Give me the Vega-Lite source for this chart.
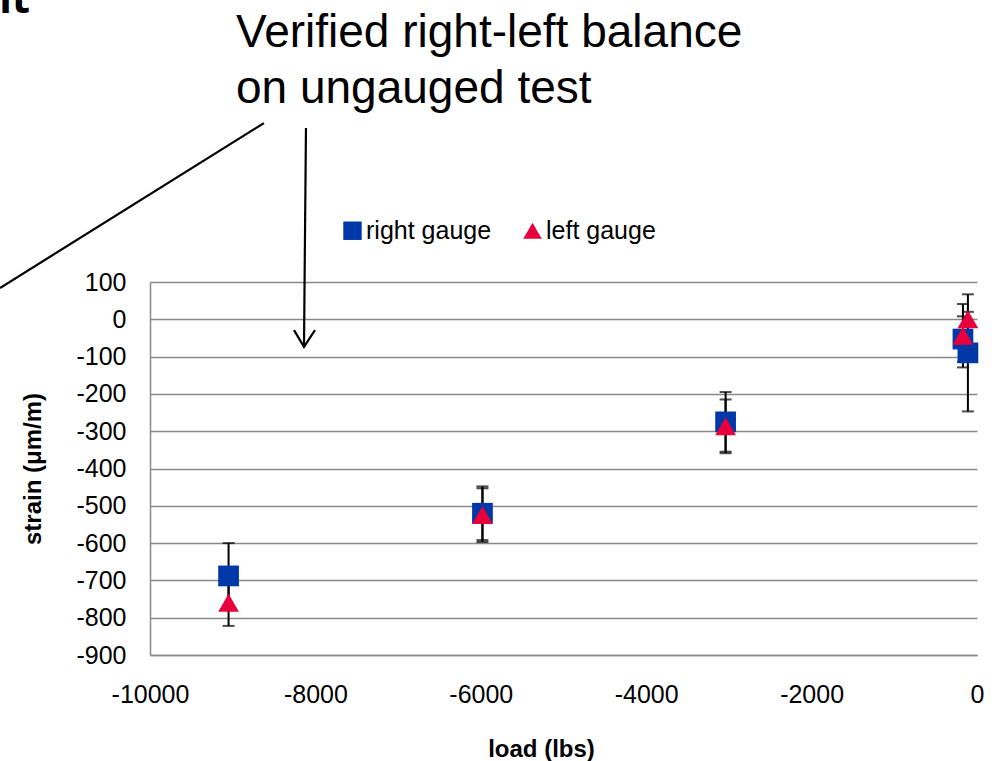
{
  "$schema": "https://vega.github.io/schema/vega-lite/v6.json",
  "width": 827,
  "height": 373,
  "autosize": {"type": "none"},
  "padding": {"left": 150, "top": 282, "right": 21, "bottom": 106},
  "background": "white",
  "config": {
    "font": "Liberation Sans",
    "view": {"stroke": null},
    "axis": {"labelFont": "Liberation Sans", "titleFont": "Liberation Sans", "labelColor": "#000000", "titleColor": "#000000"},
    "legend": {"labelFont": "Liberation Sans"}
  },
  "datasets": {
    "gauges": [
      {"load": -9050, "strain": -688, "lo": -776, "hi": -600, "series": "right gauge"},
      {"load": -5980, "strain": -520, "lo": -592, "hi": -448, "series": "right gauge"},
      {"load": -3040, "strain": -275, "lo": -355, "hi": -195, "series": "right gauge"},
      {"load": -170, "strain": -53, "lo": -114, "hi": 8, "series": "right gauge"},
      {"load": -110, "strain": -90, "lo": -247, "hi": 67, "series": "right gauge"},
      {"load": -9050, "strain": -760, "lo": -822, "hi": -698, "series": "left gauge"},
      {"load": -5980, "strain": -525, "lo": -597, "hi": -453, "series": "left gauge"},
      {"load": -3040, "strain": -287, "lo": -359, "hi": -215, "series": "left gauge"},
      {"load": -170, "strain": -44, "lo": -129, "hi": 41, "series": "left gauge"},
      {"load": -110, "strain": 0, "lo": -20, "hi": 20, "series": "left gauge"}
    ],
    "lines": [
      {"seg": "a", "ord": 1, "load": -8622, "strain": 526},
      {"seg": "a", "ord": 2, "load": -11814, "strain": 84},
      {"seg": "b", "ord": 1, "load": -8114, "strain": 513},
      {"seg": "b", "ord": 2, "load": -8138, "strain": -74},
      {"seg": "c", "ord": 1, "load": -8259, "strain": -29},
      {"seg": "c", "ord": 2, "load": -8138, "strain": -74},
      {"seg": "c", "ord": 3, "load": -8005, "strain": -29}
    ],
    "notes": [
      {"load": -8960, "strain": 730, "label": "Verified right-left balance"},
      {"load": -8960, "strain": 580, "label": "on ungauged test"}
    ],
    "title": [
      {"load": -11451, "strain": 821, "label": "nt"}
    ]
  },
  "encoding": {
    "x": {
      "field": "load", "type": "quantitative",
      "scale": {"domain": [-10000, 0], "nice": false, "zero": false},
      "axis": {
        "title": "load (lbs)", "values": [-10000, -8000, -6000, -4000, -2000, 0],
        "labelExpr": "'' + datum.value",
        "grid": false, "ticks": false, "domainColor": "#898989", "domainWidth": 1.5,
        "labelFontSize": 25, "labelPadding": 27, "labelFlush": false,
        "titleFontSize": 24, "titleFontWeight": "bold", "titleX": 391, "titleY": 101, "titleBaseline": "alphabetic"
      }
    },
    "y": {
      "field": "strain", "type": "quantitative",
      "scale": {"domain": [-900, 100], "nice": false, "zero": false},
      "axis": {
        "title": "strain (μm/m)", "values": [-900, -800, -700, -600, -500, -400, -300, -200, -100, 0, 100],
        "labelExpr": "'' + datum.value",
        "grid": true, "gridColor": "#898989", "gridWidth": 1.5, "ticks": false,
        "domainColor": "#898989", "domainWidth": 1.5,
        "labelFontSize": 25, "labelPadding": 24, "labelFlush": false,
        "titleFontSize": 24, "titleFontWeight": "bold", "titlePadding": 30
      }
    }
  },
  "layer": [
    {
      "data": {"name": "gauges"},
      "mark": {"type": "rule", "color": "#000000", "strokeWidth": 2},
      "encoding": {"y": {"field": "lo", "type": "quantitative"}, "y2": {"field": "hi"}}
    },
    {
      "data": {"name": "gauges"},
      "mark": {"type": "tick", "orient": "horizontal", "color": "#000000", "size": 12, "thickness": 2},
      "encoding": {"y": {"field": "lo", "type": "quantitative"}}
    },
    {
      "data": {"name": "gauges"},
      "mark": {"type": "tick", "orient": "horizontal", "color": "#000000", "size": 12, "thickness": 2},
      "encoding": {"y": {"field": "hi", "type": "quantitative"}}
    },
    {
      "data": {"name": "gauges"},
      "mark": {"type": "point", "filled": true, "opacity": 1, "size": 430, "strokeWidth": 0},
      "encoding": {
        "color": {
          "field": "series", "type": "nominal",
          "scale": {"domain": ["right gauge", "left gauge"], "range": ["#0038A8", "#E8003C"]},
          "legend": {
            "title": null, "orient": "none", "direction": "horizontal",
            "legendX": 190, "legendY": -64, "labelFontSize": 25, "symbolSize": 340,
            "labelOffset": 1, "columnPadding": 28, "padding": 0, "symbolStrokeWidth": 0, "labelColor": "#000000"
          }
        },
        "shape": {
          "field": "series", "type": "nominal",
          "scale": {"domain": ["right gauge", "left gauge"], "range": ["square", "triangle-up"]},
          "legend": {
            "title": null, "orient": "none", "direction": "horizontal",
            "legendX": 190, "legendY": -64, "labelFontSize": 25, "symbolSize": 340,
            "labelOffset": 1, "columnPadding": 28, "padding": 0, "symbolStrokeWidth": 0, "labelColor": "#000000"
          }
        }
      }
    },
    {
      "data": {"name": "lines"},
      "mark": {"type": "line", "color": "#000000", "strokeWidth": 2.2},
      "encoding": {
        "detail": {"field": "seg", "type": "nominal"},
        "order": {"field": "ord", "type": "quantitative"}
      }
    },
    {
      "data": {"name": "notes"},
      "mark": {"type": "text", "align": "left", "baseline": "alphabetic", "fontSize": 46, "font": "Liberation Sans", "color": "#000000"},
      "encoding": {"text": {"field": "label"}}
    },
    {
      "data": {"name": "title"},
      "mark": {"type": "text", "align": "right", "baseline": "alphabetic", "fontSize": 42, "fontWeight": "bold", "font": "Open Sans", "color": "#000000"},
      "encoding": {"text": {"field": "label"}}
    }
  ]
}
